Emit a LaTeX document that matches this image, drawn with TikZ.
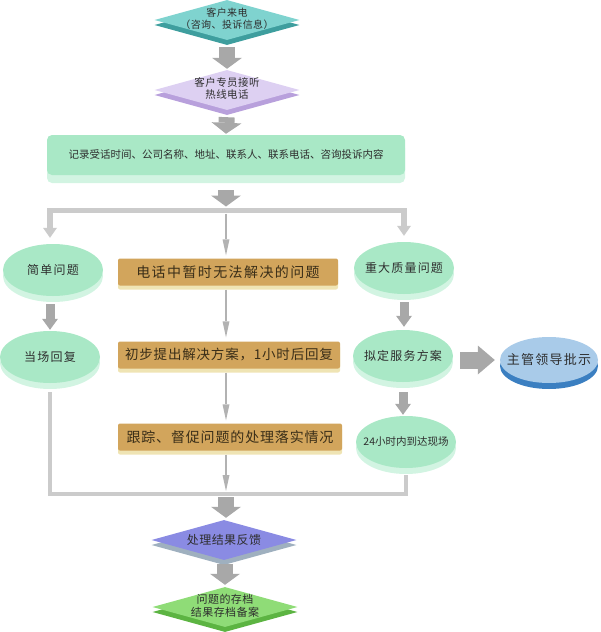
\documentclass[tikz,border=0pt]{standalone}
\usepackage{fontspec}
\setmainfont{Noto Sans CJK SC}
\newfontfamily\cjka[LetterSpace=4]{Noto Sans CJK SC}
\newfontfamily\cjkc[LetterSpace=6]{Noto Sans CJK SC}
\newfontfamily\cjkb[LetterSpace=10]{Noto Sans CJK SC}
\usetikzlibrary{shapes.geometric,shadows,arrows.meta}
\definecolor{txtc}{HTML}{2E2E2E}
\definecolor{goldT}{HTML}{3A2E18}
\definecolor{tealF}{HTML}{7FD3CF}
\definecolor{tealS}{HTML}{3E9E9E}
\definecolor{lilacF}{HTML}{DDD0F2}
\definecolor{lilacS}{HTML}{B8A0DC}
\definecolor{mintF}{HTML}{A9E8C6}
\definecolor{mintS}{HTML}{D2F4E2}
\definecolor{goldF}{HTML}{D2A55C}
\definecolor{goldS}{HTML}{EFE4B4}
\definecolor{blueF}{HTML}{A9CBE9}
\definecolor{blueS}{HTML}{3B7FC1}
\definecolor{purpF}{HTML}{8A8BE3}
\definecolor{purpS}{HTML}{9FB0BF}
\definecolor{grnF}{HTML}{8FDC77}
\definecolor{grnS}{HTML}{5CB442}
\definecolor{arrG}{HTML}{A8A8A8}
\definecolor{barG}{HTML}{CBCBCB}
\definecolor{thinG}{HTML}{B2B2B2}
\newcommand\mytwo[2]{\makebox[0pt]{\begin{tabular}{@{}c@{}}#1\\#2\end{tabular}}}
\newcommand\zw[1]{\makebox[0pt]{#1}}
\begin{document}
\begin{tikzpicture}[x=1pt,y=-1pt,
  slab/.style n args={2}{drop shadow={shadow xshift=0pt,shadow yshift=-#2pt,fill=#1,opacity=1}},
  dia/.style={diamond, aspect=1, inner sep=0pt, minimum width=145pt, minimum height=40pt, text=txtc},
  ell/.style={ellipse, inner sep=0pt, minimum width=100pt, minimum height=52pt, fill=mintF, slab={mintS}{6}, text=txtc},
  gbox/.style={rectangle, rounded corners=2pt, inner sep=0pt, minimum height=27pt, fill=goldF, slab={goldS}{4}, text=goldT},
  barr/.style={draw=arrG, line width=16pt, -{Triangle[width=30pt,length=11pt,line width=0pt]}},
  sarr/.style={draw=arrG, line width=9pt, -{Triangle[width=16pt,length=11pt,line width=0pt]}},
  rarr/.style={draw=arrG, line width=17pt, -{Triangle[width=29pt,length=17pt,line width=0pt]}},
  tarr/.style={draw=thinG, line width=2.5pt, -{Triangle[width=7pt,length=16pt,line width=0pt]}},
  bararr/.style={draw=barG, line width=5.5pt, line join=miter, {Triangle[width=14pt,length=10pt,line width=0pt]}-{Triangle[width=14pt,length=10pt,line width=0pt]}},
  botline/.style={draw=barG, line width=4.5pt, line join=miter}
]
\useasboundingbox (0,0) rectangle (600,632);

% nodes
\node[dia, fill=tealF, slab={tealS}{5}, font=\cjka\fontsize{10}{12}\selectfont] (d1) at (227,20) {\mytwo{客户来电}{（咨询、投诉信息）}};
\node[dia, fill=lilacF, slab={lilacS}{5}, font=\cjka\fontsize{10.5}{12.5}\selectfont] (d2) at (227,90) {\mytwo{客户专员接听}{热线电话}};
\node[rectangle, rounded corners=5pt, inner sep=0pt, minimum width=358pt, minimum height=40pt, fill=mintF, slab={mintS}{8}, text=txtc, font=\fontsize{10.5}{12}\selectfont] (rec) at (226,155) {记录受话时间、公司名称、地址、联系人、联系电话、咨询投诉内容};

\node[ell, font=\cjkb\fontsize{12}{14}\selectfont] (e1) at (53,270) {\zw{简单问题}};
\node[ell, font=\cjkb\fontsize{12}{14}\selectfont] (e2) at (50,357) {\zw{当场回复}};

\node[gbox, minimum width=220pt, font=\cjkb\fontsize{14}{16}\selectfont] (b1) at (228,272) {电话中暂时无法解决的问题};
\node[gbox, minimum width=222pt, font=\cjkc\fontsize{13.5}{16}\selectfont] (b2) at (229,355) {初步提出解决方案，1小时后回复};
\node[gbox, minimum width=224pt, font=\cjkc\fontsize{14}{16}\selectfont] (b3) at (230,437) {跟踪、督促问题的处理落实情况};

\node[ell, font=\cjkb\fontsize{12}{14}\selectfont] (e3) at (404,268) {\zw{重大质量问题}};
\node[ell, font=\cjkb\fontsize{12}{14}\selectfont] (e4) at (403,356) {\zw{拟定服务方案}};
\node[ell, font=\fontsize{10.5}{12}\selectfont] (e5) at (406,442) {\zw{24小时内到达现场}};
\node[ellipse, inner sep=0pt, minimum width=98pt, minimum height=46pt, fill=blueF, slab={blueS}{6}, text=txtc, font=\cjkb\fontsize{13}{15}\selectfont] (e6) at (549,360) {\zw{主管领导批示}};

\node[dia, fill=purpF, slab={purpS}{5}, font=\cjka\fontsize{12}{14}\selectfont] (d3) at (224,540) {\zw{处理结果反馈}};
\node[dia, fill=grnF, slab={grnS}{5}, font=\cjka\fontsize{11}{12.5}\selectfont] (d4) at (225,607) {\mytwo{问题的存档}{结果存档备案}};

\coordinate (split) at (226,210.5);
\coordinate (merge) at (226,494);

% connectors
\draw[barr, shorten <=7pt, shorten >=1pt] (d1.south) -- (d2.north);
\draw[barr, shorten <=7pt, shorten >=1pt] (d2.south) -- (rec.north);
\draw[barr, shorten <=15pt, shorten >=4pt] (rec.south) -- (split);
\draw[bararr, shorten <=6pt, shorten >=6pt] (e2.north |- e1.north) |- (split) -| (e3.north);
\draw[tarr, shorten <=3pt, shorten >=3pt] (split) -- (split |- b1.north);

\draw[sarr, shorten <=8pt, shorten >=1pt] (e2.north |- e1.south) -- (e2.north);
\draw[tarr, shorten <=4pt, shorten >=4pt] (b1.south -| split) -- (split |- b2.north);
\draw[tarr, shorten <=4pt, shorten >=3pt] (b2.south -| split) -- (split |- b3.north);
\draw[tarr, shorten <=4pt, shorten >=3pt] (b3.south -| merge) -- (merge);
\draw[sarr, shorten <=8pt, shorten >=3pt] (e3.south) -- (e3.south |- e4.north);
\draw[sarr, shorten <=10pt, shorten >=1pt] (e4.south) -- (e4.south |- e5.north);
\draw[rarr, shorten <=7pt, shorten >=5pt] (e4.east |- e6.west) -- (e6.west);

\draw[botline, shorten <=9pt, shorten >=7pt] (e2.south) |- (merge) -| (e5.south);
\draw[barr, shorten <=3pt, shorten >=2pt] (merge) -- (merge |- d3.north);
\draw[barr, shorten <=4pt, shorten >=2pt] (d4.north |- d3.south) -- (d4.north);
\end{tikzpicture}
\end{document}
